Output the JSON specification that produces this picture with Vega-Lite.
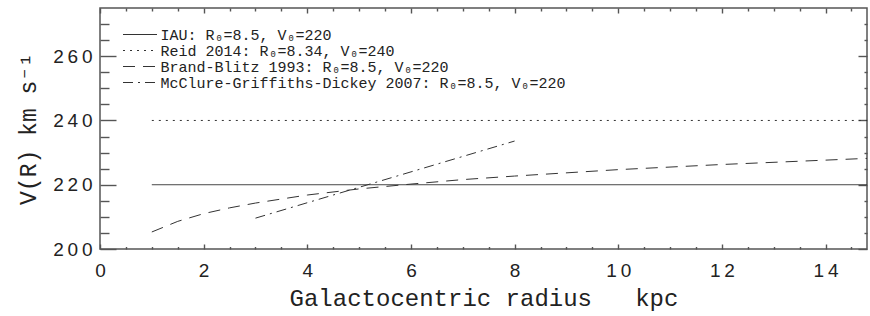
{
  "$schema": "https://vega.github.io/schema/vega-lite/v6.json",
  "width": 767,
  "height": 241,
  "autosize": {"type": "none"},
  "padding": {"left": 100, "top": 8, "right": 3, "bottom": 67},
  "background": "white",
  "config": {
    "view": {"stroke": "#555", "strokeWidth": 1.5},
    "axis": {
      "domain": false,
      "ticks": true,
      "tickColor": "#555",
      "labelColor": "#222",
      "titleColor": "#222",
      "grid": false,
      "labelFont": "Liberation Sans",
      "titleFont": "Liberation Mono, DejaVu Sans Mono",
      "titleFontWeight": "normal",
      "tickWidth": 1.4,
      "zindex": 1,
      "labelOverlap": false,
      "labelFlush": false
    }
  },
  "data": {
    "values": [
      {"model": "IAU: R₀=8.5, V₀=220", "R": 1, "V": 220},
      {"model": "IAU: R₀=8.5, V₀=220", "R": 14.8, "V": 220},
      {"model": "Reid 2014: R₀=8.34, V₀=240", "R": 1, "V": 240},
      {"model": "Reid 2014: R₀=8.34, V₀=240", "R": 14.8, "V": 240},
      {"model": "Brand-Blitz 1993: R₀=8.5, V₀=220", "R": 1, "V": 205.3},
      {"model": "Brand-Blitz 1993: R₀=8.5, V₀=220", "R": 1.5, "V": 208.6},
      {"model": "Brand-Blitz 1993: R₀=8.5, V₀=220", "R": 2, "V": 211.0},
      {"model": "Brand-Blitz 1993: R₀=8.5, V₀=220", "R": 2.5, "V": 212.8},
      {"model": "Brand-Blitz 1993: R₀=8.5, V₀=220", "R": 3, "V": 214.3},
      {"model": "Brand-Blitz 1993: R₀=8.5, V₀=220", "R": 4, "V": 216.8},
      {"model": "Brand-Blitz 1993: R₀=8.5, V₀=220", "R": 5, "V": 218.7},
      {"model": "Brand-Blitz 1993: R₀=8.5, V₀=220", "R": 6, "V": 220.2},
      {"model": "Brand-Blitz 1993: R₀=8.5, V₀=220", "R": 7, "V": 221.6},
      {"model": "Brand-Blitz 1993: R₀=8.5, V₀=220", "R": 8, "V": 222.7},
      {"model": "Brand-Blitz 1993: R₀=8.5, V₀=220", "R": 10, "V": 224.7},
      {"model": "Brand-Blitz 1993: R₀=8.5, V₀=220", "R": 12, "V": 226.3},
      {"model": "Brand-Blitz 1993: R₀=8.5, V₀=220", "R": 14.8, "V": 228.2},
      {"model": "McClure-Griffiths-Dickey 2007: R₀=8.5, V₀=220", "R": 3, "V": 209.6},
      {"model": "McClure-Griffiths-Dickey 2007: R₀=8.5, V₀=220", "R": 8, "V": 233.6}
    ]
  },
  "layer": [
    {
      "mark": {"type": "line", "stroke": "#333", "strokeWidth": 1, "clip": true},
      "encoding": {
        "x": {
          "field": "R",
          "type": "quantitative",
          "scale": {"domain": [0, 14.8], "nice": false, "zero": false},
          "axis": {
            "orient": "bottom",
            "values": [0, 2, 4, 6, 8, 10, 12, 14],
            "tickSize": 5,
            "offset": -5,
            "labelExpr": "join(split(format(datum.value, 'd'), ''), '\u2009')",
            "labelFontSize": 19,
            "labelPadding": 12,
            "title": "Galactocentric radius\u00a0\u00a0\u00a0kpc",
            "titleFontSize": 24,
            "titlePadding": 6
          }
        },
        "y": {
          "field": "V",
          "type": "quantitative",
          "scale": {"domain": [200, 275], "nice": false, "zero": false},
          "axis": {
            "orient": "left",
            "values": [200, 220, 240, 260],
            "tickSize": 16,
            "offset": -16,
            "labelExpr": "join(split(format(datum.value, 'd'), ''), '\u2009')",
            "labelFontSize": 19,
            "labelPadding": 8,
            "title": "V(R)\u00a0km s⁻¹",
            "titleFontSize": 23,
            "titlePadding": 12
          }
        },
        "strokeDash": {
          "field": "model",
          "type": "nominal",
          "scale": {
            "domain": ["IAU: R₀=8.5, V₀=220", "Reid 2014: R₀=8.34, V₀=240", "Brand-Blitz 1993: R₀=8.5, V₀=220", "McClure-Griffiths-Dickey 2007: R₀=8.5, V₀=220"],
            "range": [[1, 0], [2, 5], [12, 8], [10, 5, 2, 5]]
          },
          "legend": {
            "orient": "none",
            "legendX": 23,
            "legendY": 19,
            "title": null,
            "padding": 0,
            "symbolType": "M-3.4,0H3.4",
            "symbolSize": 100,
            "symbolStrokeWidth": 1,
            "symbolStrokeColor": "#333",
            "symbolOffset": 9.5,
            "labelOffset": 13,
            "labelFont": "Liberation Mono, DejaVu Sans Mono",
            "labelFontSize": 15,
            "labelColor": "#222",
            "labelLimit": 0,
            "rowPadding": 0
          }
        }
      }
    },
    {
      "mark": {"type": "point", "opacity": 0},
      "encoding": {
        "x": {
          "field": "R",
          "type": "quantitative",
          "scale": {"domain": [0, 14.8], "nice": false, "zero": false},
          "axis": {"orient": "top", "values": [0, 2, 4, 6, 8, 10, 12, 14], "tickSize": 5, "offset": -5, "labels": false, "title": null}
        },
        "y": {
          "field": "V",
          "type": "quantitative",
          "scale": {"domain": [200, 275], "nice": false, "zero": false},
          "axis": {"orient": "right", "values": [200, 220, 240, 260], "tickSize": 9, "offset": -9, "labels": false, "title": null}
        }
      }
    },
    {
      "mark": {"type": "point", "opacity": 0},
      "encoding": {
        "x": {
          "field": "R",
          "type": "quantitative",
          "scale": {"domain": [0, 14.8], "nice": false, "zero": false},
          "axis": {"orient": "bottom", "values": [0.5, 1, 1.5, 2.5, 3, 3.5, 4.5, 5, 5.5, 6.5, 7, 7.5, 8.5, 9, 9.5, 10.5, 11, 11.5, 12.5, 13, 13.5, 14.5], "tickSize": 2.5, "offset": -2.5, "labels": false, "title": null}
        },
        "y": {
          "field": "V",
          "type": "quantitative",
          "scale": {"domain": [200, 275], "nice": false, "zero": false},
          "axis": {"orient": "left", "values": [205, 210, 215, 225, 230, 235, 245, 250, 255, 265, 270], "tickSize": 9, "offset": -9, "labels": false, "title": null}
        }
      }
    },
    {
      "mark": {"type": "point", "opacity": 0},
      "encoding": {
        "x": {
          "field": "R",
          "type": "quantitative",
          "scale": {"domain": [0, 14.8], "nice": false, "zero": false},
          "axis": {"orient": "top", "values": [0.5, 1, 1.5, 2.5, 3, 3.5, 4.5, 5, 5.5, 6.5, 7, 7.5, 8.5, 9, 9.5, 10.5, 11, 11.5, 12.5, 13, 13.5, 14.5], "tickSize": 3, "offset": -3, "labels": false, "title": null}
        },
        "y": {
          "field": "V",
          "type": "quantitative",
          "scale": {"domain": [200, 275], "nice": false, "zero": false},
          "axis": {"orient": "right", "values": [205, 210, 215, 225, 230, 235, 245, 250, 255, 265, 270], "tickSize": 3, "offset": -3, "labels": false, "title": null}
        }
      }
    }
  ],
  "resolve": {"axis": {"x": "independent", "y": "independent"}}
}
